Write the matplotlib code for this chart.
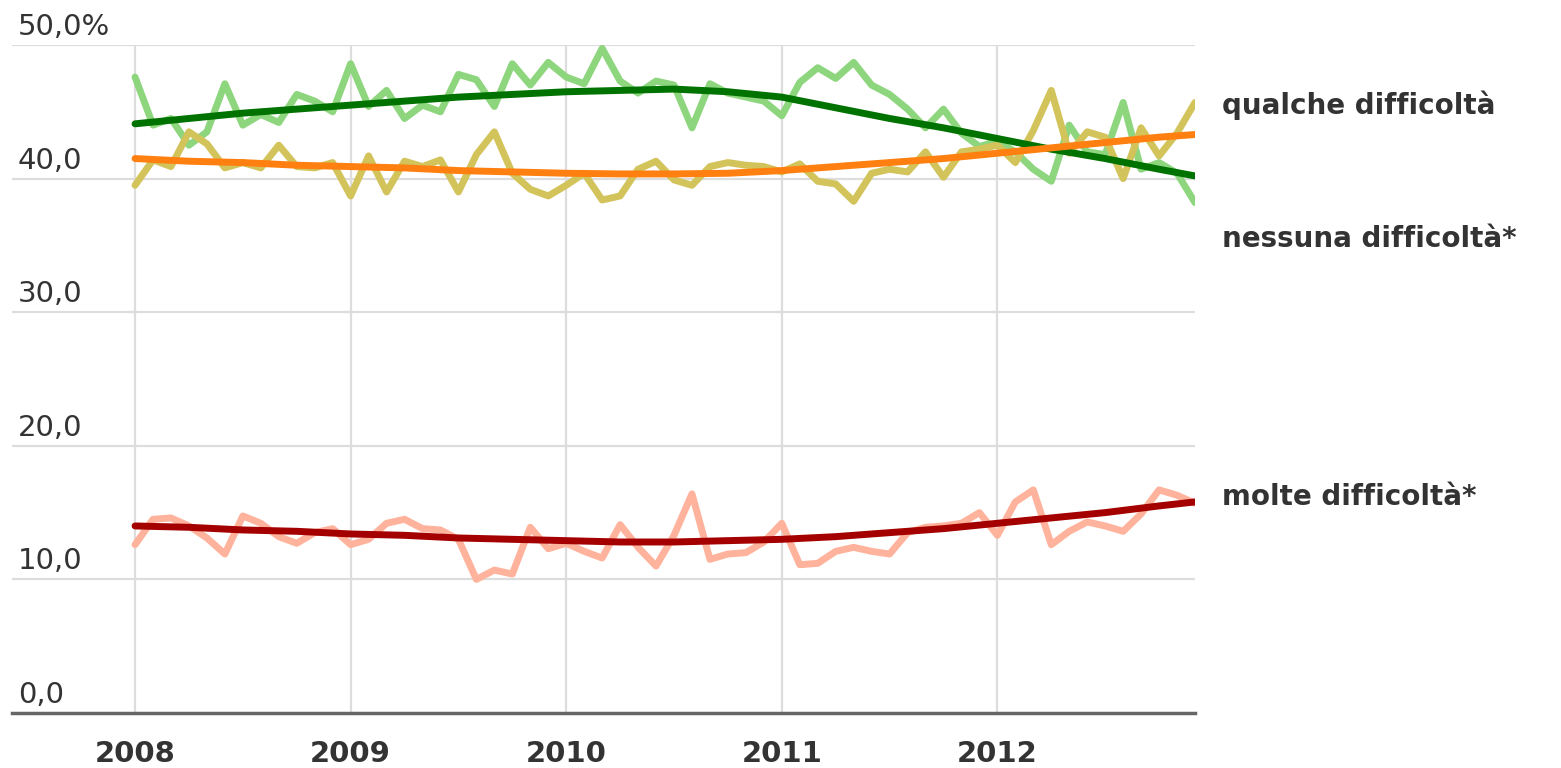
import numpy as np
import matplotlib.pyplot as plt

# monthly survey, Jan 2008 .. Dec 2012 (month index 0..59)
months = np.arange(60)

qualche = [47.6, 44.0, 44.5, 42.5, 43.5, 47.1, 44.0, 44.8, 44.2, 46.3,
           45.8, 45.0, 48.6, 45.4, 46.6, 44.5, 45.5, 45.0, 47.8, 47.4,
           45.4, 48.6, 47.0, 48.7, 47.6, 47.1, 49.75, 47.3, 46.4, 47.3,
           47.0, 43.8, 47.1, 46.4, 46.1, 45.8, 44.7, 47.2, 48.3, 47.5,
           48.7, 47.0, 46.3, 45.2, 43.8, 45.2, 43.4, 42.4, 42.8, 42.0,
           40.7, 39.8, 44.0, 42.0, 41.8, 45.7, 40.7, 41.2, 40.4, 38.2]

nessuna = [39.5, 41.4, 40.9, 43.5, 42.6, 40.8, 41.2, 40.8, 42.5, 40.9,
           40.8, 41.2, 38.7, 41.7, 39.0, 41.3, 40.9, 41.4, 39.0, 41.8,
           43.5, 40.4, 39.2, 38.7, 39.5, 40.4, 38.4, 38.7, 40.7, 41.3,
           39.9, 39.5, 40.9, 41.2, 41.0, 40.9, 40.5, 41.1, 39.8, 39.6,
           38.3, 40.4, 40.7, 40.5, 42.0, 40.1, 42.0, 42.2, 42.5, 41.2,
           43.6, 46.6, 41.9, 43.5, 43.1, 40.0, 43.8, 41.7, 43.4, 45.7]

molte = [12.6, 14.5, 14.6, 14.0, 13.1, 11.9, 14.75, 14.2, 13.2, 12.7,
         13.5, 13.8, 12.6, 13.0, 14.2, 14.5, 13.8, 13.7, 13.0, 10.0,
         10.7, 10.4, 13.9, 12.3, 12.7, 12.1, 11.6, 14.1, 12.4, 11.0,
         13.3, 16.4, 11.5, 11.9, 12.0, 12.8, 14.2, 11.1, 11.2, 12.1,
         12.4, 12.1, 11.9, 13.5, 13.9, 14.0, 14.2, 15.0, 13.3, 15.8,
         16.7, 12.6, 13.6, 14.3, 14.0, 13.6, 14.9, 16.7, 16.3, 15.7]

# smoothed trends, read every quarter
trend_months = [0, 3, 6, 9, 12, 15, 18, 21, 24, 27, 30,
                33, 36, 39, 42, 45, 48, 51, 54, 57, 59]
qualche_trend = [44.1, 44.5, 44.9, 45.2, 45.5, 45.8, 46.1, 46.3, 46.5, 46.6, 46.7,
                 46.5, 46.1, 45.3, 44.5, 43.8, 43.0, 42.2, 41.5, 40.7, 40.2]
nessuna_trend = [41.5, 41.3, 41.2, 41.0, 40.9, 40.8, 40.6, 40.5, 40.4, 40.35, 40.35,
                 40.4, 40.6, 40.9, 41.2, 41.5, 41.9, 42.3, 42.7, 43.1, 43.3]
molte_trend = [14.0, 13.9, 13.7, 13.6, 13.4, 13.3, 13.1, 13.0, 12.9, 12.8, 12.8,
               12.9, 13.0, 13.2, 13.5, 13.8, 14.2, 14.6, 15.0, 15.5, 15.8]

years = [2008, 2009, 2010, 2011, 2012]
y_ticks = [0, 10, 20, 30, 40, 50]
y_labels = ['0,0', '10,0', '20,0', '30,0', '40,0', '50,0%']
series_labels = ['qualche difficoltà', 'nessuna difficoltà*', 'molte difficoltà*']
label_y = [45.5, 35.5, 16.15]

TEXT = '#333333'


def to_year(m):
    return 2008 + np.asarray(m) / 12.0


def main():
    fig = plt.figure(figsize=(15.61, 7.68), dpi=100)
    ax = fig.add_axes([12 / 1561, 55 / 768, 1183 / 1561, 668 / 768])
    ax.set_xlim(2008 - 123 / 215.5, to_year(59))
    ax.set_ylim(0, 50)
    for s in ax.spines.values():
        s.set_visible(False)
    ax.set_xticks([])
    ax.set_yticks([])

    # grid
    for v in y_ticks[1:]:
        ax.axhline(v, color='#dddddd', lw=1.6, zorder=0)
    ax.vlines(years, 0, 50, color='#dddddd', lw=1.6, zorder=0)
    ax.axhline(0, color='#666666', lw=2.5, zorder=1, clip_on=False)

    x = to_year(months)
    xt = to_year(trend_months)
    kw = dict(lw=5, solid_capstyle='round', solid_joinstyle='round')
    ax.plot(x, qualche, color='#8ed67e', zorder=2, **kw)
    ax.plot(x, nessuna, color='#d3c35b', zorder=2, **kw)
    ax.plot(x, molte, color='#ffb29c', zorder=2, **kw)
    ax.plot(xt, qualche_trend, color='#007200', zorder=3, **kw)
    ax.plot(xt, nessuna_trend, color='#ff8010', zorder=3, **kw)
    ax.plot(xt, molte_trend, color='#a50000', zorder=3, **kw)

    # y labels sit above the gridlines, left aligned
    ytr = ax.get_yaxis_transform()
    for v, lab in zip(y_ticks, y_labels):
        ax.text(0.005, v + 0.75, lab, transform=ytr, ha='left', va='baseline',
                fontsize=21, color=TEXT)

    for yr in years:
        ax.text(yr, -3.1, str(yr), ha='center', va='center', fontsize=21,
                fontweight='bold', color=TEXT, clip_on=False)

    for lab, yv in zip(series_labels, label_y):
        ax.text(1.0228, yv, lab, transform=ytr, ha='left', va='center',
                fontsize=20, fontweight='bold', color=TEXT, clip_on=False)

    fig.savefig('out.png', dpi=100)


if __name__ == '__main__':
    main()
